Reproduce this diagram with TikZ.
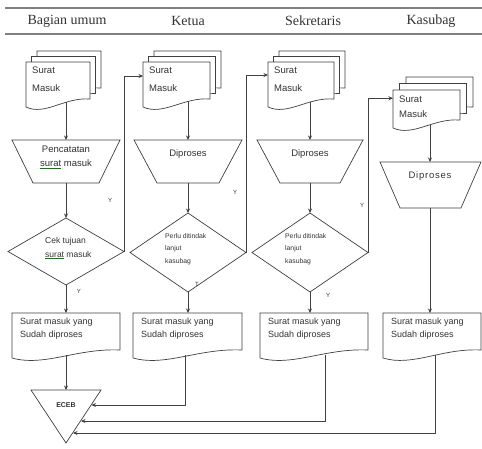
\documentclass[tikz,border=0pt]{standalone}
\usepackage{fontspec}
\setmainfont{Liberation Serif}
\setsansfont{Liberation Sans}
\usetikzlibrary{arrows.meta,calc,shapes.geometric}
\definecolor{lc}{gray}{0.25}
\definecolor{tc}{gray}{0.2}
\newcommand\gsurat{\setbox0\hbox{surat}\rlap{\color{green!50!black}\rule[-1.8pt]{\wd0}{0.7pt}}surat}
\newcommand\docshape[4]{%
  \draw[shp] ({#1},{#2}) -- ({#3},{#2}) -- ({#3},{(#4)-8})
    .. controls ({(#1)+0.6*((#3)-(#1))},{(#4)-10}) and ({(#1)+0.3*((#3)-(#1))},{(#4)+9}) .. ({#1},{#4}) -- cycle;}
\newcommand\mdoc[5]{%
  \docshape{(#1)+2*(#5)}{(#2)-2*(#5)}{(#3)+2*(#5)}{(#4)-2*(#5)}
  \docshape{(#1)+(#5)}{(#2)-(#5)}{(#3)+(#5)}{(#4)-(#5)}
  \docshape{#1}{#2}{#3}{#4}}
\newcommand\trap[6]{\draw[shp] (#3,#1) -- (#4,#1) -- (#6,#2) -- (#5,#2) -- cycle;}
\tikzset{
  shp/.style={draw=lc, fill=white, line width=0.7pt},
  anc/.style={draw=none, rectangle, inner sep=0pt, outer sep=0pt},
  dia/.style={diamond, draw=lc, fill=white, line width=0.7pt, inner sep=0pt, outer sep=0pt},
  arr/.style={draw=lc, line width=0.7pt, -{Stealth[length=4.5pt,width=4pt]}},
  hline/.style={draw=gray, line width=1.3pt},
  hdr/.style={font=\fontsize{14}{16}\selectfont, text=tc, inner sep=0pt},
  doctxt/.style={font=\sffamily\fontsize{9.5}{17.5}\selectfont, align=left, text=tc, inner sep=0pt, anchor=north west},
  boxtxt/.style={font=\sffamily\fontsize{9}{13}\selectfont, align=left, text=tc, inner sep=0pt, anchor=north west},
  prtxt/.style={font=\sffamily\fontsize{9.5}{14}\selectfont, align=center, text=tc, inner sep=0pt},
  smtxt/.style={font=\sffamily\fontsize{6.8}{12.5}\selectfont, align=left, text=tc, inner sep=0pt, anchor=north west},
  yt/.style={font=\sffamily\fontsize{6}{7}\selectfont, text=tc, inner sep=0pt},
}
\begin{document}
\begin{tikzpicture}[x=1pt,y=-1pt]
\fill[white] (0,0) rectangle (482,448);
\useasboundingbox (0,0) rectangle (482,448);
% header
\draw[hline] (5,8) -- (482,8);
\draw[hline] (5,34) -- (482,34);
\node[hdr] (h1) at (67,21) {Bagian umum};
\node[hdr] (h2) at (188,21) {Ketua};
\node[hdr] (h3) at (313,21) {Sekretaris};
\node[hdr] (h4) at (431,21) {Kasubag};

% multi documents
\mdoc{26}{62}{90}{107}{5.5}
\node[anc, minimum width=64pt, minimum height=40pt] (d1) at (58,82) {};
\node[doctxt] (d1t) at (32,67) {Surat\\Masuk};
\mdoc{143}{62}{210}{107}{5.5}
\node[anc, minimum width=67pt, minimum height=39pt] (d2) at (176.5,81.5) {};
\node[doctxt] (d2t) at (149,67) {Surat\\Masuk};
\mdoc{268}{62}{334}{107}{5.5}
\node[anc, minimum width=66pt, minimum height=40pt] (d3) at (301,82) {};
\node[doctxt] (d3t) at (274,67) {Surat\\Masuk};
\mdoc{393}{90}{460}{128}{6.5}
\node[anc, minimum width=67pt, minimum height=34.5pt] (d4) at (426.5,107.25) {};
\node[doctxt, font=\sffamily\fontsize{9.5}{15}\selectfont] (d4t) at (399,96) {Surat\\Masuk};

% trapezoids
\trap{140}{183}{12}{120}{33}{99}
\node[anc, minimum width=66pt, minimum height=43pt] (t1) at (66,161.5) {};
\node[prtxt, anchor=north] (t1t) at (66,146) {Pencatatan\\\gsurat{} masuk};
\trap{140}{183}{134}{242}{157}{219}
\node[anc, minimum width=62pt, minimum height=43pt] (t2) at (188,161.5) {};
\node[prtxt, anchor=base] (t2t) at (188,156) {Diproses};
\trap{140}{183}{257}{363}{280}{340}
\node[anc, minimum width=60pt, minimum height=43pt] (t3) at (310,161.5) {};
\node[prtxt, anchor=base] (t3t) at (310,156) {Diproses};
\trap{162}{208}{380}{481}{400}{461}
\node[anc, minimum width=61pt, minimum height=46pt] (t4) at (430,185) {};
\node[prtxt, anchor=base] (t4t) at (430,178) {\addfontfeatures{LetterSpace=8}Diproses};

% diamonds
\node[dia, minimum width=116pt, minimum height=67pt] (k1) at (66,251.5) {};
\node[boxtxt, font=\sffamily\fontsize{8.5}{14}\selectfont] (k1t) at (45,237) {Cek tujuan\\\gsurat{} masuk};
\node[dia, minimum width=116pt, minimum height=79pt] (k2) at (188,252.5) {};
\node[smtxt] (k2t) at (165,233) {Perlu ditindak\\lanjut\\kasubag};
\node[dia, minimum width=116pt, minimum height=79pt] (k3) at (310,252.5) {};
\node[smtxt] (k3t) at (285,233) {Perlu ditindak\\lanjut\\kasubag};

% bottom documents
\docshape{12}{313}{120}{358}
\node[anc, minimum width=108pt, minimum height=42pt] (b1) at (66,334) {};
\node[boxtxt] (b1t) at (20,318) {Surat masuk yang\\Sudah diproses};
\docshape{133}{313}{242}{358}
\node[anc, minimum width=104pt, minimum height=42pt] (b2) at (185,334) {};
\node[boxtxt] (b2t) at (141,318) {Surat masuk yang\\Sudah diproses};
\docshape{260}{313}{368}{358}
\node[anc, minimum width=80pt, minimum height=42pt] (b3) at (325,334) {};
\node[boxtxt] (b3t) at (268,318) {Surat masuk yang\\Sudah diproses};
\docshape{383}{313}{481}{358}
\node[anc, minimum width=80pt, minimum height=42pt] (b4) at (435,334) {};
\node[boxtxt] (b4t) at (391,318) {Surat masuk yang\\Sudah diproses};

% triangle
\draw[shp] (31,390) -- (101,390) -- (66,443) -- cycle;
\node[anc, font=\sffamily\bfseries\fontsize{7}{8}\selectfont, text=tc] (tri) at (66,405) {ECEB};
\coordinate (tt) at (66,390);
\coordinate (e2) at (91.5,405);
\coordinate (e3) at (81,421);
\coordinate (e4) at (73,433);

% flow connectors
\draw[arr] (t1.north |- d1.south) -- (t1.north);
\draw[arr] (t1) -- (k1);
\draw[arr] (k1) -- (b1);
\draw[arr] (t2.north |- d2.south) -- (t2.north);
\draw[arr] (t2) -- (k2);
\draw[arr] (k2.south) -- (k2.south |- b2.north);
\draw[arr] (t3.north |- d3.south) -- (t3.north);
\draw[arr] (t3) -- (k3);
\draw[arr] (k3.south) -- (k3.south |- b3.north);
\draw[arr] (t4.north |- d4.south) -- (t4.north);
\draw[arr] (t4.south) -- (t4.south |- b4.north);

\draw[arr] (k1.east) |- ([yshift=5.5pt]d2.west);
\draw[arr] (k2.east) |- ([yshift=7pt]d3.west);
\draw[arr] (k3.east) |- ([yshift=9pt]d4.west);

\draw[arr] (b1.south) -- (tt);
\draw[arr] (b2.south) |- (e2);
\draw[arr] (b3.south) |- (e3);
\draw[arr] (b4.south) |- (e4);

% labels
\node[yt] (y1) at (110,200) {Y};
\node[yt] (y2) at (79,291) {Y};
\node[yt] (y3) at (235,192) {Y};
\node[yt] (y4) at (197,284) {T};
\node[yt] (y5) at (362,205) {Y};
\node[yt] (y6) at (328,295) {Y};
\end{tikzpicture}
\end{document}
